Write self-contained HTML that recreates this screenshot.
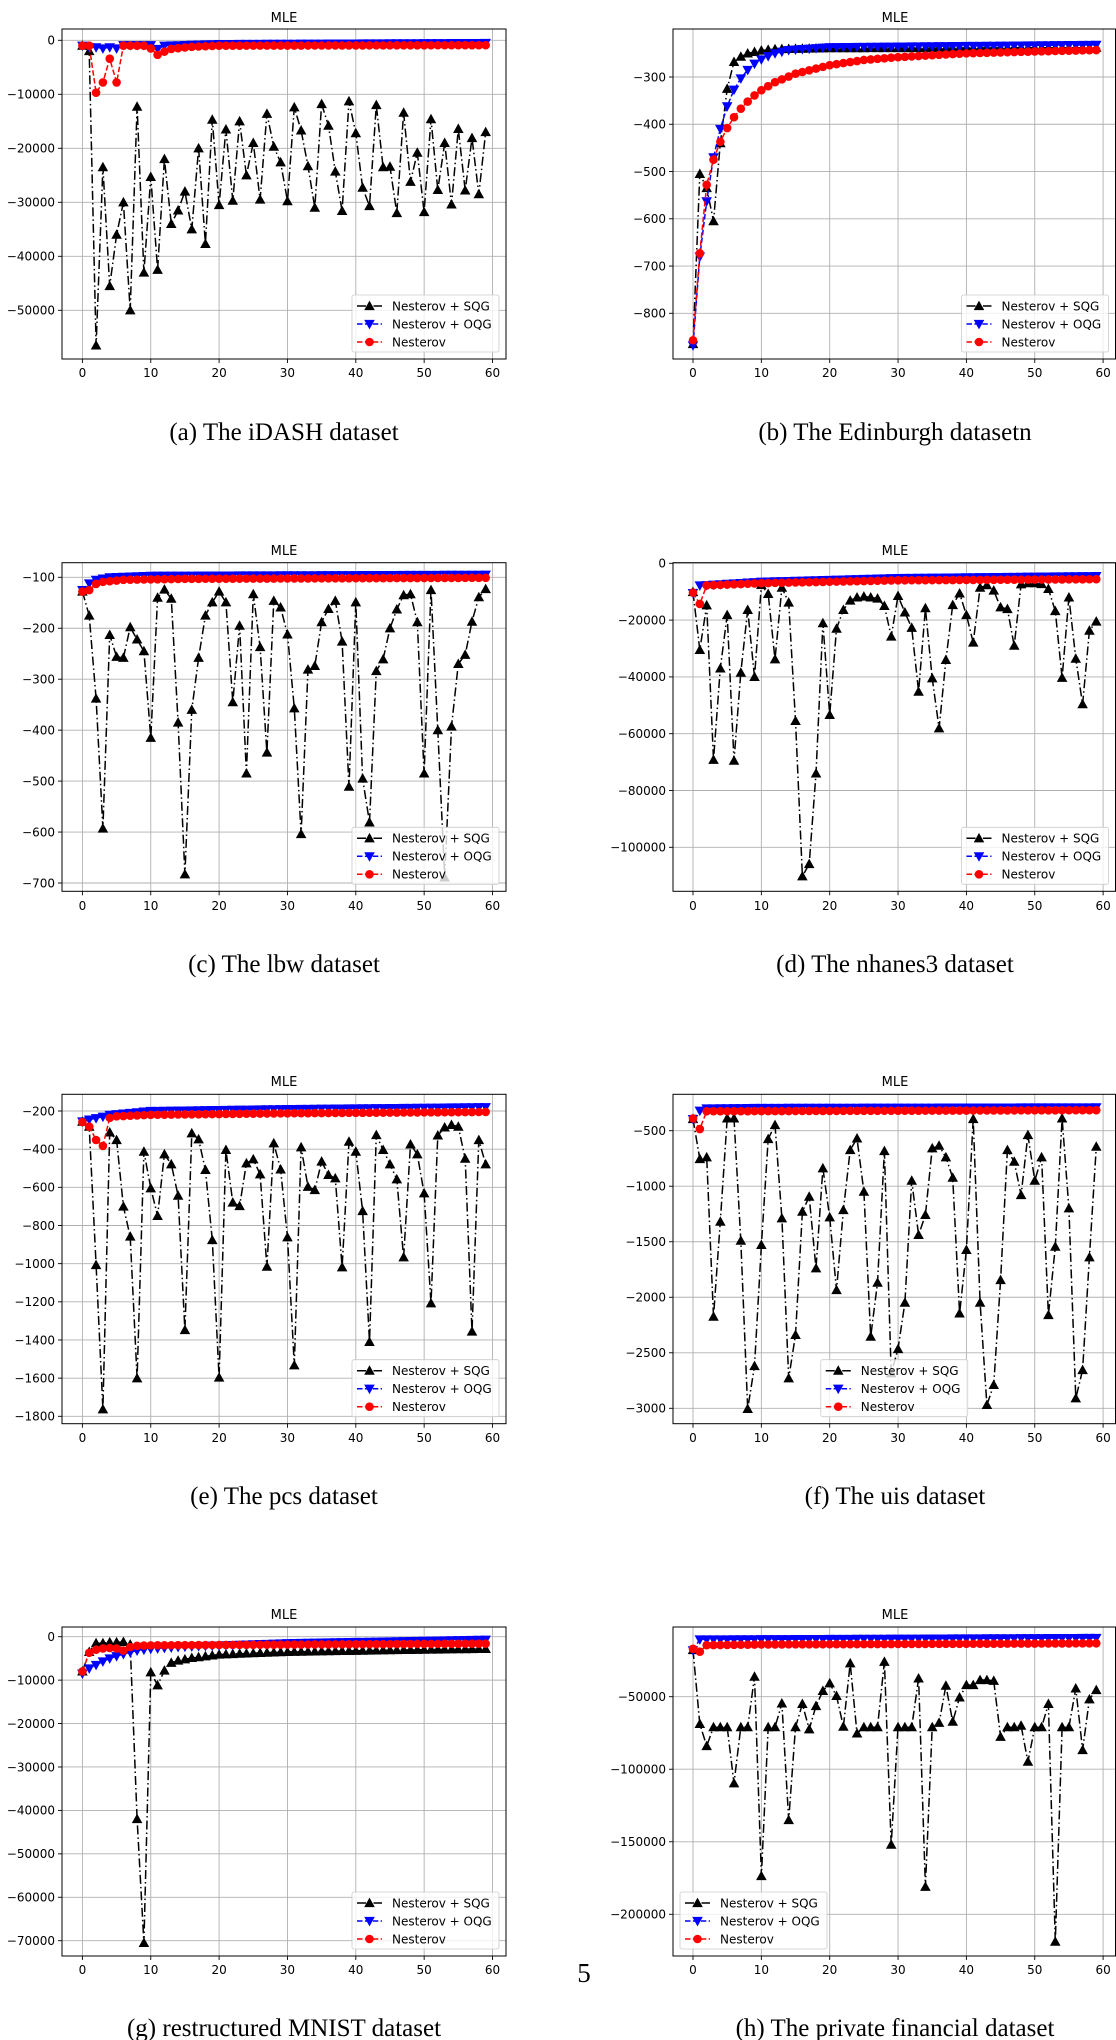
<!DOCTYPE html>
<html><head><meta charset="utf-8">
<style>
html,body{margin:0;padding:0;background:#fff;}
svg{display:block;}
</style></head>
<body>
<svg id="s" width="1116" height="2040" xmlns="http://www.w3.org/2000/svg"></svg>
<script>
function K(pts){var a=[];for(var n=0;n<60;n++){for(var i=0;i<pts.length-1;i++){if(n>=pts[i][0]&&n<=pts[i+1][0]){var t=(n-pts[i][0])/(pts[i+1][0]-pts[i][0]);a.push(pts[i][1]+t*(pts[i+1][1]-pts[i][1]));break;}}}return a;}
function S(arr,m){return arr.map(function(v){return v*m;});}
var rows=[{T:29,B:359,title:22,xl:377,cap:440},{T:562.7,B:891.3,title:555,xl:910,cap:972},{T:1094.3,B:1423.7,title:1086,xl:1442,cap:1504},{T:1627,B:1956,title:1619,xl:1974,cap:2036}];
var cols=[{L:62,R:506,x0:82.4,tc:284},{L:673,R:1115.5,x0:693,tc:895}];
var P=[
{r:0,c:0,map:[0,40.3,-50000,310.3],ticks:[0,-10000,-20000,-30000,-40000,-50000],leg:'r',cap:'(a) The iDASH dataset',
sqg:S([-1,-2,-56.5,-23.5,-45.5,-36,-30,-50,-12.3,-43,-25.3,-42.5,-22,-34,-31.5,-28,-35,-20,-37.7,-14.7,-30.5,-16.5,-29.7,-15,-25,-19,-29.5,-13.6,-19.7,-22.6,-29.8,-12.4,-16.7,-23.3,-31,-11.8,-15.8,-24.3,-31.6,-11.3,-17.2,-27.3,-30.7,-12,-23.5,-23.4,-32,-13.4,-26.2,-20.8,-31.8,-14.6,-27.7,-19,-30.4,-16.4,-27.8,-18.1,-28.5,-17],1000),
oqg:K([[0,-1000],[1,-1300],[2,-1300],[3,-1500],[4,-1300],[5,-1500],[6,-900],[10,-900],[11,-1600],[12,-1000],[20,-700],[59,-500]]),
nes:K([[0,-1000],[1,-1000],[2,-9700],[3,-7800],[4,-3400],[5,-7800],[6,-1000],[9,-1000],[10,-1500],[11,-2700],[12,-2100],[13,-1600],[16,-1200],[20,-1000],[59,-900]])},
{r:0,c:1,map:[-300,77,-800,313.3],ticks:[-300,-400,-500,-600,-700,-800],leg:'r',cap:'(b) The Edinburgh datasetn',
sqg:K([[0,-865],[1,-505],[2,-535],[3,-605],[4,-440],[5,-325],[6,-268],[7,-257],[8,-250],[9,-247],[10,-244],[12,-241],[20,-239],[59,-238]]),
oqg:K([[0,-868],[1,-680],[2,-563],[3,-470],[4,-410],[5,-362],[6,-327],[7,-303],[8,-285],[9,-272],[10,-263],[11,-256],[12,-250],[14,-243],[20,-237],[59,-232]]),
nes:K([[0,-857],[1,-673],[2,-528],[3,-475],[4,-437],[5,-408],[6,-385],[7,-367],[8,-352],[9,-339],[10,-328],[12,-311],[15,-293],[20,-275],[25,-264],[30,-258],[40,-250],[50,-246],[59,-243]])},
{r:1,c:0,map:[-100,577.3,-700,883],ticks:[-100,-200,-300,-400,-500,-600,-700],leg:'r',cap:'(c) The lbw dataset',
sqg:[-128,-175,-338,-593,-213,-256,-258,-198,-222,-245,-415,-140,-124,-142,-385,-683,-360,-258,-175,-149,-128,-149,-345,-195,-485,-133,-237,-444,-146,-159,-212,-357,-604,-281,-274,-188,-162,-146,-226,-511,-149,-495,-581,-284,-261,-200,-163,-135,-133,-188,-485,-125,-400,-689,-393,-270,-252,-187,-139,-123],
oqg:K([[0,-125],[1,-112],[2,-105],[4,-100],[10,-97],[59,-95]]),
nes:K([[0,-128],[1,-125],[2,-113],[3,-109],[6,-105],[15,-103],[59,-101]])},
{r:1,c:1,map:[0,563.3,-100000,847.3],ticks:[0,-20000,-40000,-60000,-80000,-100000],leg:'r',cap:'(d) The nhanes3 dataset',
sqg:S([-10.1,-30.5,-14.8,-69.2,-37,-18.2,-69.5,-38.5,-16.4,-40,-7.6,-10.8,-33.8,-8.6,-13.8,-55.5,-110.2,-105.9,-74,-21.1,-53.4,-23,-16.4,-13.1,-12,-11.7,-12,-12.4,-15,-25.8,-11.5,-17.3,-22.7,-45.2,-15.8,-40.5,-58.1,-34,-14.7,-10.6,-18.2,-27.9,-8.6,-7.7,-9.6,-15.5,-16.1,-29,-7.4,-7,-7,-7.3,-9,-16.8,-40.3,-12,-33.6,-49.6,-23.7,-20.5],1000),
oqg:K([[0,-10500],[1,-7800],[2,-7700],[10,-6500],[30,-5200],[59,-4500]]),
nes:K([[0,-10300],[1,-14300],[2,-7800],[10,-7000],[30,-6000],[59,-5600]])},
{r:2,c:0,map:[-200,1111,-1800,1416.3],ticks:[-200,-400,-600,-800,-1000,-1200,-1400,-1600,-1800],leg:'r',cap:'(e) The pcs dataset',
sqg:[-256,-282,-1007,-1763,-312,-352,-701,-858,-1601,-413,-605,-750,-427,-479,-644,-1348,-317,-348,-509,-876,-1597,-404,-680,-698,-474,-453,-532,-1016,-369,-506,-862,-1533,-390,-597,-614,-465,-535,-553,-1019,-361,-413,-724,-1410,-326,-404,-479,-558,-967,-375,-427,-631,-1208,-328,-286,-273,-282,-450,-1356,-352,-479],
oqg:K([[0,-255],[1,-245],[2,-238],[3,-230],[4,-220],[10,-200],[30,-190],[59,-180]]),
nes:K([[0,-258],[1,-282],[2,-352],[3,-383],[4,-236],[5,-228],[10,-220],[30,-212],[59,-205]])},
{r:2,c:1,map:[-500,1130.7,-3000,1408.3],ticks:[-500,-1000,-1500,-2000,-2500,-3000],leg:'c',cap:'(f) The uis dataset',
sqg:[-395,-755,-740,-2175,-1319,-389,-389,-1490,-3006,-2619,-1529,-575,-449,-1289,-2730,-2339,-1229,-1094,-1739,-839,-1280,-1935,-1214,-674,-569,-1049,-2355,-1869,-683,-2685,-2466,-2049,-950,-1439,-1259,-659,-635,-740,-923,-2145,-1574,-395,-2049,-2970,-2790,-1845,-674,-779,-1079,-539,-950,-740,-2160,-1544,-389,-1199,-2910,-2655,-1640,-644],
oqg:K([[0,-395],[1,-320],[2,-300],[10,-295],[59,-290]]),
nes:K([[0,-390],[1,-485],[2,-325],[59,-315]])},
{r:3,c:0,map:[0,1636.7,-70000,1940.7],ticks:[0,-10000,-20000,-30000,-40000,-50000,-60000,-70000],leg:'r',cap:'(g) restructured MNIST dataset',
sqg:K([[0,-8000],[1,-3500],[2,-1500],[3,-1500],[4,-1300],[5,-1300],[6,-1200],[7,-1800],[8,-42000],[9,-70500],[10,-8200],[11,-11200],[12,-7800],[13,-6000],[14,-5500],[15,-5200],[16,-4900],[17,-4700],[18,-4500],[20,-4100],[30,-3500],[45,-3100],[59,-2800]]),
oqg:K([[0,-8500],[1,-7300],[2,-6500],[3,-5700],[4,-5000],[5,-4500],[6,-4000],[7,-3600],[8,-3200],[9,-3000],[10,-2800],[15,-2300],[30,-1500],[59,-700]]),
nes:K([[0,-8000],[1,-3700],[2,-3000],[3,-2700],[4,-2600],[5,-2700],[6,-3200],[7,-2400],[8,-2100],[10,-2000],[20,-1900],[59,-1600]])},
{r:3,c:1,map:[-50000,1696.7,-200000,1914.3],ticks:[-50000,-100000,-150000,-200000],leg:'l',cap:'(h) The private financial dataset',
sqg:S([-17.8,-68.8,-84,-71,-71,-71,-109.7,-71,-71,-36.2,-173.6,-71,-71,-54.6,-135,-71,-55,-72.5,-56.4,-46,-40.8,-49.5,-70.7,-27,-75.3,-71,-71,-71,-25.9,-152,-71,-71,-71,-37.4,-181,-71,-68,-42.4,-67.2,-50.5,-42,-42,-38.5,-38.5,-39,-77.6,-71,-71,-70,-94.8,-71,-71,-55,-218.9,-71,-71,-44.3,-86.8,-51.8,-45.4],1000),
oqg:K([[0,-18000],[1,-10500],[5,-10500],[59,-9500]]),
nes:K([[0,-17000],[1,-19000],[2,-14500],[10,-14000],[59,-13200]])}
];
var NS='http://www.w3.org/2000/svg',svg=document.getElementById('s');
function el(tag,at,parent,txt){var e=document.createElementNS(NS,tag);for(var k in at)e.setAttribute(k,at[k]);if(txt!==undefined)e.textContent=txt;(parent||svg).appendChild(e);return e;}
function fmt(v){return v<0?'\u2212'+(-v):''+v;}
var FONT='DejaVu Sans, Liberation Sans, sans-serif';
function tri(g,x,y,up,col){var h=4.6;var d=up?('M'+x+','+(y-h)+'L'+(x+h)+','+(y+h*0.8)+'L'+(x-h)+','+(y+h*0.8)+'Z'):('M'+x+','+(y+h)+'L'+(x+h)+','+(y-h*0.8)+'L'+(x-h)+','+(y-h*0.8)+'Z');el('path',{d:d,fill:col,stroke:col,'stroke-width':0.8},g);}
P.forEach(function(p,i){
 var R=rows[p.r],C=cols[p.c];
 var sy=(p.map[3]-p.map[1])/(p.map[2]-p.map[0]);
 function Y(v){return p.map[1]+(v-p.map[0])*sy;}
 function X(n){return C.x0+n*6.835;}
 var cid='c'+i;
 var cp=el('clipPath',{id:cid});el('rect',{x:C.L,y:R.T,width:C.R-C.L,height:R.B-R.T},cp);
 // grid
 for(var n=0;n<=60;n+=10){var x=X(n);el('line',{x1:x,x2:x,y1:R.T,y2:R.B,stroke:'#b0b0b0','stroke-width':0.9});el('line',{x1:x,x2:x,y1:R.B,y2:R.B+4,stroke:'#000','stroke-width':0.9});el('text',{x:x,y:R.xl,'font-family':FONT,'font-size':12,'text-anchor':'middle'},null,''+n);}
 p.ticks.forEach(function(t){var y=Y(t);el('line',{x1:C.L,x2:C.R,y1:y,y2:y,stroke:'#b0b0b0','stroke-width':0.9});el('line',{x1:C.L-4,x2:C.L,y1:y,y2:y,stroke:'#000','stroke-width':0.9});el('text',{x:C.L-7,y:y+4.3,'font-family':FONT,'font-size':12,'text-anchor':'end'},null,fmt(t));});
 var g=el('g',{'clip-path':'url(#'+cid+')'});
 function line(arr,col,dash){var d='';arr.forEach(function(v,n){d+=(n?'L':'M')+X(n).toFixed(1)+','+Y(v).toFixed(1);});el('path',{d:d,fill:'none',stroke:col,'stroke-width':1.5,'stroke-dasharray':dash},g);}
 line(p.sqg,'#000','9,3,1.5,3');p.sqg.forEach(function(v,n){tri(g,X(n),Y(v),true,'#000');});
 line(p.oqg,'#0000ff','5.5,2.4');p.oqg.forEach(function(v,n){tri(g,X(n),Y(v),false,'#0000ff');});
 line(p.nes,'#ff0000','5.5,2.4');p.nes.forEach(function(v,n){el('circle',{cx:X(n),cy:Y(v),r:4.3,fill:'#ff0000'},g);});
 el('rect',{x:C.L,y:R.T,width:C.R-C.L,height:R.B-R.T,fill:'none',stroke:'#000','stroke-width':1});
 el('text',{x:C.tc,y:R.title,'font-family':FONT,'font-size':13,'text-anchor':'middle'},null,'MLE');
 // legend
 var w=147,h=57,lx;
 if(p.leg==='r')lx=C.R-7-w;else if(p.leg==='l')lx=C.L+7;else lx=(C.L+C.R)/2-w/2;
 var ly=R.B-7-h;
 el('rect',{x:lx,y:ly,width:w,height:h,rx:2,fill:'#fff','fill-opacity':0.8,stroke:'#ccc','stroke-width':0.8});
 var items=[['Nesterov + SQG','#000','t'],['Nesterov + OQG','#0000ff','v'],['Nesterov','#ff0000','o']];
 items.forEach(function(it,k){var yy=ly+11+k*18;
  el('line',{x1:lx+5,x2:lx+30,y1:yy,y2:yy,stroke:it[1],'stroke-width':1.5,'stroke-dasharray':it[2]==='t'?'9,3,1.5,3':'5.5,2.4'});
  if(it[2]==='t')tri(svg,lx+17.5,yy,true,it[1]);else if(it[2]==='v')tri(svg,lx+17.5,yy,false,it[1]);else el('circle',{cx:lx+17.5,cy:yy,r:4.3,fill:it[1]});
  el('text',{x:lx+40,y:yy+4.3,'font-family':FONT,'font-size':12},null,it[0]);});
 el('text',{x:C.tc,y:R.cap,'font-family':'Liberation Serif, serif','font-size':25,'text-anchor':'middle'},null,p.cap);
});
el('text',{x:584,y:1982,'font-family':'Liberation Serif, serif','font-size':27,'text-anchor':'middle'},null,'5');
</script>
</body></html>
